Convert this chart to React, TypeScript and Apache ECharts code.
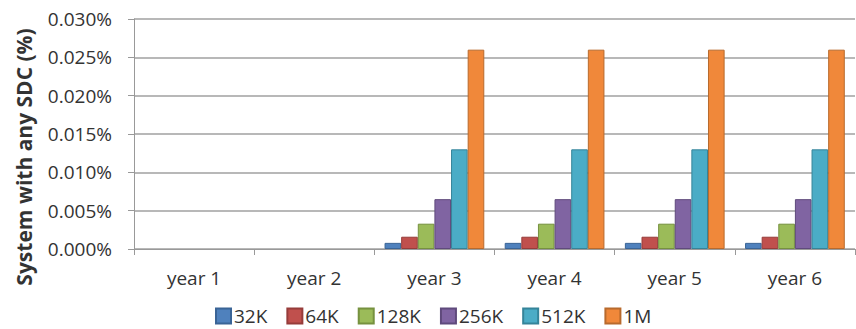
import React, { useEffect, useRef } from "react";
import * as echarts from "echarts";

const categories = ["year 1", "year 2", "year 3", "year 4", "year 5", "year 6"];
const seriesNames = ["32K", "64K", "128K", "256K", "512K", "1M"];
const values32K = [0, 0, 0.0008, 0.0008, 0.0008, 0.0008];
const values64K = [0, 0, 0.0016, 0.0016, 0.0016, 0.0016];
const values128K = [0, 0, 0.0033, 0.0033, 0.0033, 0.0033];
const values256K = [0, 0, 0.0065, 0.0065, 0.0065, 0.0065];
const values512K = [0, 0, 0.013, 0.013, 0.013, 0.013];
const values1M = [0, 0, 0.026, 0.026, 0.026, 0.026];
const yTicks = [0, 0.005, 0.01, 0.015, 0.02, 0.025, 0.03];
const yTitle = "System with any SDC (%)";

const colors = ["#4F81BD", "#C0504D", "#9BBB59", "#8064A2", "#4BACC6", "#F0883A"];
const borders = ["#3A6496", "#963C3A", "#76913F", "#5F4A7C", "#358499", "#B86A2D"];

export default function App() {
  const ref = useRef<HTMLDivElement>(null);
  useEffect(() => {
    document.body.style.margin = "0";
    const chart = echarts.init(ref.current!, null, { renderer: "svg" });
    const all = [values32K, values64K, values128K, values256K, values512K, values1M];
    const font = "'Open Sans', 'DejaVu Sans', sans-serif";
    const txt = "#333";
    chart.setOption({
      animation: false,
      textStyle: { fontFamily: font },
      grid: { left: 134, right: 1, top: 19, height: 230 },
      graphic: [
        {
          type: "text",
          x: 24,
          y: 157,
          rotation: Math.PI / 2,
          style: {
            text: yTitle,
            fontSize: 21,
            fontWeight: "bold",
            fill: txt,
            fontFamily: font,
            align: "center",
            verticalAlign: "middle",
          },
        },
      ],
      legend: {
        bottom: 2,
        left: 215,
        padding: 0,
        itemWidth: 15,
        itemHeight: 15,
        itemGap: 19,
        icon: "rect",
        textStyle: {
          fontSize: 19,
          lineHeight: 22,
          color: txt,
          fontFamily: font,
          padding: [0, 0, 0, -2],
        },
        data: seriesNames,
      },
      xAxis: {
        type: "category",
        data: categories,
        axisLine: { lineStyle: { color: "#999" } },
        axisTick: { show: true, alignWithLabel: false, length: 6, lineStyle: { color: "#999" } },
        axisLabel: { fontSize: 19, color: txt, margin: 19, fontFamily: font },
      },
      yAxis: {
        type: "value",
        min: 0,
        max: 0.03,
        interval: 0.005,
        axisLine: { show: true, lineStyle: { color: "#999" } },
        axisTick: { show: true, length: 6, lineStyle: { color: "#999" } },
        splitLine: { lineStyle: { color: "#a0a0a0", width: 1.5 } },
        axisLabel: {
          fontSize: 19,
          color: txt,
          margin: 22,
          fontFamily: font,
          formatter: (v: number) => {
            const t = yTicks.find((x) => Math.abs(x - v) < 1e-9);
            return (t ?? v).toFixed(3) + "%";
          },
        },
      },
      series: seriesNames.map((name, i) => ({
        name,
        type: "bar",
        data: all[i].map((v) => ({
          value: v,
          itemStyle: v === 0 ? { borderWidth: 0 } : undefined,
        })),
        barGap: "0%",
        barCategoryGap: "17%",
        itemStyle: { color: colors[i], borderColor: borders[i], borderWidth: 1 },
      })),
    });
    return () => chart.dispose();
  }, []);
  return <div ref={ref} style={{ width: 856, height: 329 }} />;
}
